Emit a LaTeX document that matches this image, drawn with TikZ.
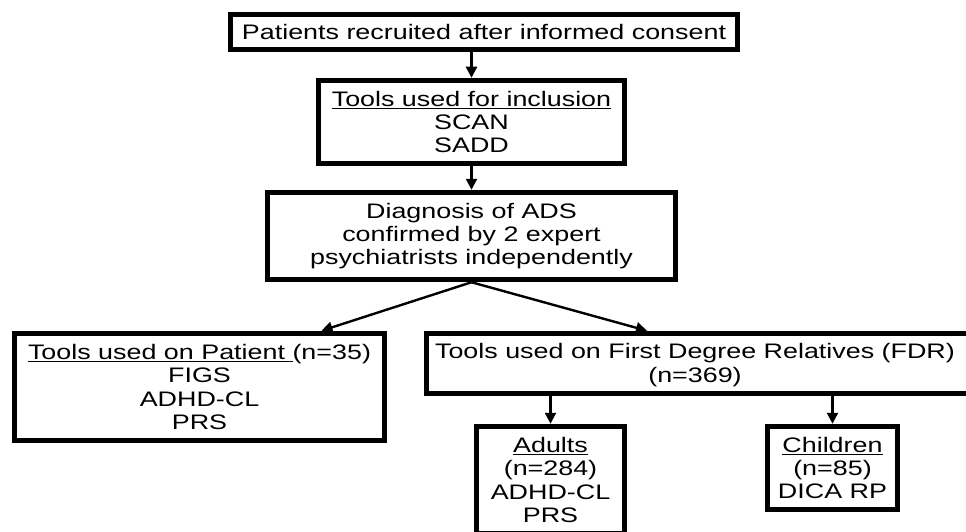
\documentclass[tikz,border=0pt]{standalone}
\usepackage{fontspec}
\setmainfont{Liberation Sans}[FakeStretch=1.28]
\usepackage{tikz}
\usetikzlibrary{arrows.meta,calc}

\tikzset{
  flowbox/.style={draw, line width=5.5pt, inner sep=0pt, align=center, fill=white},
  flowtext/.style={inner sep=0pt, align=center},
  flowarrow/.style={line width=2.4pt, -{Triangle[length=11pt,width=11pt]}}
}

\begin{document}
\begin{tikzpicture}[x=1pt, y=-1pt, font=\fontsize{21}{23.3}\selectfont]
\clip (0,0) rectangle (966,532);
\fill[white] (0,0) rectangle (966,532);
% top of the chart
\node[flowbox, minimum width=507pt, minimum height=35pt] (recruit) at (484,32) {Patients recruited after informed consent};
\node[flowbox, minimum width=306pt, minimum height=83pt] (inclusion) at (471.5,122) {\underline{Tools used for inclusion}\\SCAN\\SADD};
\node[flowbox, minimum width=408pt, minimum height=87pt] (diagnosis) at (471.5,236) {Diagnosis of ADS\\confirmed by 2 expert\\psychiatrists independently};
% two branches
\node[flowbox, minimum width=370pt, minimum height=107pt] (patient) at (199.5,387) {\underline{Tools used on Patient }(n=35)\\FIGS\\ADHD-CL\\PRS};
% FDR box runs past the right edge, its text sits left of the box centre
\node[flowbox, minimum width=581pt, minimum height=60pt] (fdr) at (717,363.5) {};
\node[flowtext] (fdrtext) at (695,365) {Tools used on First Degree Relatives (FDR)\\(n=369)};
\node[flowbox, minimum width=148pt, minimum height=107pt] (adults) at (550.5,480) {\underline{Adults}\\(n=284)\\ADHD-CL\\PRS};
\node[flowbox, minimum width=130pt, minimum height=83pt] (children) at (832.5,468) {\underline{Children}\\(n=85)\\DICA RP};
% arrows
\draw[flowarrow] (inclusion.north |- recruit.south) -- (inclusion.north);
\draw[flowarrow] (inclusion.south) -- (diagnosis.north);
\draw[flowarrow] (diagnosis.south) -- ([xshift=122pt]patient.north);
\draw[flowarrow] (diagnosis.south) -- ([xshift=-70pt]fdr.north);
\draw[flowarrow] (adults.north |- fdr.south) -- (adults.north);
\draw[flowarrow] (children.north |- fdr.south) -- (children.north);
\end{tikzpicture}
\end{document}
